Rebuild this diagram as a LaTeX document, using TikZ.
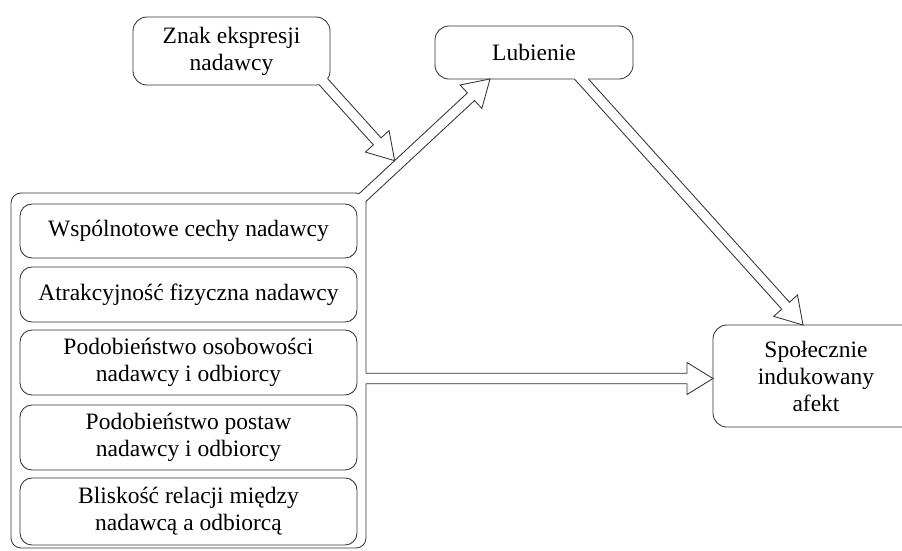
\documentclass[tikz,border=0pt]{standalone}
\usepackage{fontspec}
\setmainfont{Liberation Serif}
\usetikzlibrary{calc,intersections}
\tikzset{
  ln/.style={draw=black!80, line width=0.85pt},
  box/.style={ln, rounded corners=14pt, fill=white, align=center, inner sep=0pt, outer sep=0pt,
    font=\fontsize{23.5}{27}\selectfont},
  inbox/.style={box, rounded corners=12pt, minimum width=337pt},
}
\newcommand\mkarrow[3]{%
  \coordinate (#1c) at ($(#3)!26pt!(#2)$);
  \coordinate (#1l) at ($(#2)!5.2pt!90:(#3)$);
  \coordinate (#1r) at ($(#2)!5.2pt!-90:(#3)$);
  \coordinate (#1sl) at ($(#1c)!5.2pt!90:(#3)$);
  \coordinate (#1sr) at ($(#1c)!5.2pt!-90:(#3)$);
  \coordinate (#1hl) at ($(#1c)!16pt!90:(#3)$);
  \coordinate (#1hr) at ($(#1c)!16pt!-90:(#3)$);
}
\newcommand\drawarrow[3]{%
  \path[name path=#1pl] (#1l) -- (#1sl);
  \path[name path=#1pr] (#1r) -- (#1sr);
  \path[name intersections={of=#3 and #1pl, by={#1xl}}];
  \path[name intersections={of=#3 and #1pr, by={#1xr}}];
  \fill[white] (#1l) -- (#1sl) -- (#1hl) -- (#2) -- (#1hr) -- (#1sr) -- (#1r) -- cycle;
  \draw[ln, line join=miter] (#1xl) -- (#1sl) -- (#1hl) -- (#2) -- (#1hr) -- (#1sr) -- (#1xr);
}
\begin{document}
\begin{tikzpicture}[x=1pt, y={(0pt,-1pt)}]
\useasboundingbox (0,0) rectangle (902,550);

% main nodes
\node[box, minimum width=197pt, minimum height=68pt] (zn) at (231.5,51) {Znak ekspresji\\nadawcy};
\node[box, minimum width=198pt, minimum height=53pt] (lub) at (534,52.5) {Lubienie};
\node[box, minimum width=206pt, minimum height=102pt] (spol) at (816,376) {Społecznie\\indukowany\\afekt};

% container and its boxes
\node[ln, rounded corners=10pt, minimum width=355pt, minimum height=355pt, inner sep=0pt, outer sep=0pt] (grp) at (188.5,370.5) {};
\node[inbox, minimum height=54pt] (b1) at (188.5,231) {Wspólnotowe cechy nadawcy};
\node[inbox, minimum height=55pt] (b2) at (188.5,294.5) {Atrakcyjność fizyczna nadawcy};
\node[inbox, minimum height=65pt] (b3) at (188.5,362.5) {Podobieństwo osobowości\\nadawcy i odbiorcy};
\node[inbox, minimum height=65pt] (b4) at (188.5,437.5) {Podobieństwo postaw\\nadawcy i odbiorcy};
\node[inbox, minimum height=67pt] (b5) at (188.5,511.5) {Bliskość relacji między\\nadawcą a odbiorcą};

% border paths for intersections
\path[name path=bzn, rounded corners=14pt] (zn.south west) rectangle (zn.north east);
\path[name path=blub, rounded corners=14pt] (lub.south west) rectangle (lub.north east);
\path[name path=bgrp, rounded corners=10pt] (grp.south west) rectangle (grp.north east);

% container -> Lubienie
\coordinate (kA) at ($(grp.north east)+(-5,6)$);
\coordinate (kB) at ($(lub.south west)+(55,0)$);
\mkarrow{k}{kA}{kB}

% Znak -> onto the container arrow
\coordinate (zA) at ($(zn.south east)+(-10,-7)$);
\coordinate (zD) at ($(zA)+(67,74.2)$);
\coordinate (zB) at (intersection of zA--zD and kl--ksl);
\mkarrow{z}{zA}{zB}
\drawarrow{z}{zB}{bzn}
\drawarrow{k}{kB}{bgrp}

% Lubienie -> Spolecznie
\coordinate (lA) at ($(lub.south west)+(141,-6)$);
\coordinate (lB) at ($(spol.north west)+(90,0)$);
\mkarrow{l}{lA}{lB}
\drawarrow{l}{lB}{blub}

% container -> Spolecznie
\coordinate (hB) at ($(spol.west)+(0,2.5)$);
\coordinate (h0) at (grp.east |- hB);
\coordinate (hA) at ($(h0)+(-6,0)$);
\mkarrow{h}{hA}{hB}
\drawarrow{h}{hB}{bgrp}
\end{tikzpicture}
\end{document}
